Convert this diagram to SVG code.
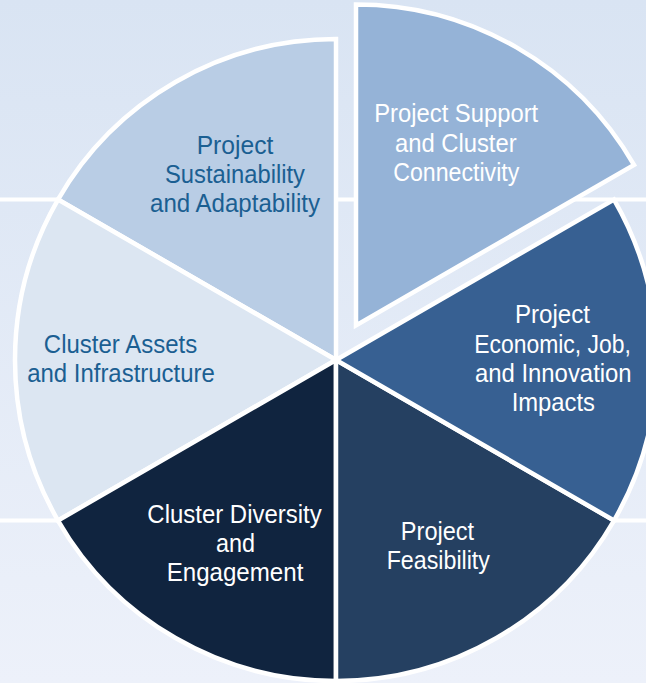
<svg xmlns="http://www.w3.org/2000/svg" width="646" height="683" viewBox="0 0 646 683">
<defs>
<linearGradient id="bg" x1="0" y1="0" x2="0" y2="1">
<stop offset="0" stop-color="#d9e4f3"/>
<stop offset="1" stop-color="#edf1fa"/>
</linearGradient>
</defs>
<style>
.slice{stroke:#ffffff;stroke-width:4.5;stroke-linejoin:miter}
.sep{stroke:#ffffff;stroke-width:4}
text{font-family:"Liberation Sans",Arial,sans-serif;font-size:25.5px;text-anchor:middle}
.lt{fill:#1b5f92}
.dk{fill:#ffffff}
</style>
<rect x="0" y="0" width="646" height="683" fill="url(#bg)"/>
<g id="background-lines">
<line class="sep" x1="0" y1="199.5" x2="646" y2="199.5"/>
<line class="sep" x1="0" y1="520.5" x2="646" y2="520.5"/>
</g>
<g id="slice-sustainability">
<path class="slice" fill="#b9cde5" d="M336,360 L58,199.5 A321,321 0 0 1 336,39 Z"/>
<text class="lt" x="235" y="154.3" textLength="76.7" lengthAdjust="spacingAndGlyphs">Project</text>
<text class="lt" x="235" y="183.3" textLength="140" lengthAdjust="spacingAndGlyphs">Sustainability</text>
<text class="lt" x="235" y="212.3" textLength="170" lengthAdjust="spacingAndGlyphs">and Adaptability</text>
</g>
<g id="slice-assets">
<path class="slice" fill="#dce6f2" d="M336,360 L58,520.5 A321,321 0 0 1 58,199.5 Z"/>
<text class="lt" x="120.5" y="353.3" textLength="153.3" lengthAdjust="spacingAndGlyphs">Cluster Assets</text>
<text class="lt" x="121" y="382.3" textLength="187.7" lengthAdjust="spacingAndGlyphs">and Infrastructure</text>
</g>
<g id="slice-diversity">
<path class="slice" fill="#10243f" d="M336,360 L336,681 A321,321 0 0 1 58,520.5 Z"/>
<text class="dk" x="234.5" y="523.3" textLength="174.3" lengthAdjust="spacingAndGlyphs">Cluster Diversity</text>
<text class="dk" x="235.5" y="552.3" textLength="39" lengthAdjust="spacingAndGlyphs">and</text>
<text class="dk" x="235" y="581" textLength="136.7" lengthAdjust="spacingAndGlyphs">Engagement</text>
</g>
<g id="slice-feasibility">
<path class="slice" fill="#254061" d="M336,360 L614,520.5 A321,321 0 0 1 336,681 Z"/>
<text class="dk" x="437.5" y="540" textLength="73.3" lengthAdjust="spacingAndGlyphs">Project</text>
<text class="dk" x="438.3" y="568.8" textLength="103.3" lengthAdjust="spacingAndGlyphs">Feasibility</text>
</g>
<g id="slice-economic">
<path class="slice" fill="#376092" d="M336,360 L614,199.5 A321,321 0 0 1 614,520.5 Z"/>
<text class="dk" x="552.5" y="323.3" textLength="75" lengthAdjust="spacingAndGlyphs">Project</text>
<text class="dk" x="552.5" y="352.5" textLength="156.7" lengthAdjust="spacingAndGlyphs">Economic, Job,</text>
<text class="dk" x="553.3" y="382" textLength="156.7" lengthAdjust="spacingAndGlyphs">and Innovation</text>
<text class="dk" x="553.3" y="411" textLength="83.3" lengthAdjust="spacingAndGlyphs">Impacts</text>
</g>
<g id="slice-support">
<path class="slice" fill="#95b3d7" d="M356,325.4 L356,4.4 A321,321 0 0 1 634,164.9 Z"/>
<text class="dk" x="456.2" y="121.7" textLength="164" lengthAdjust="spacingAndGlyphs">Project Support</text>
<text class="dk" x="455.8" y="151.5" textLength="121.7" lengthAdjust="spacingAndGlyphs">and Cluster</text>
<text class="dk" x="456.3" y="180.7" textLength="126" lengthAdjust="spacingAndGlyphs">Connectivity</text>
</g>
</svg>
